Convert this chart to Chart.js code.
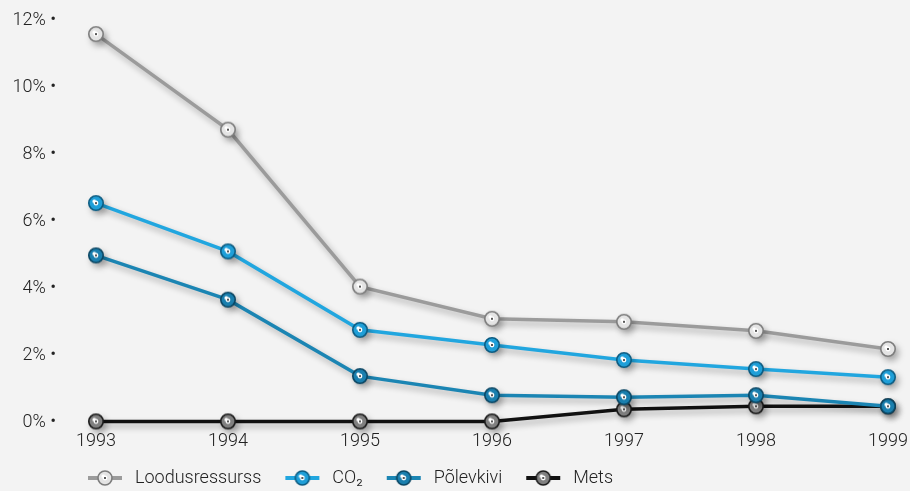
<!DOCTYPE html>
<html><head><meta charset="utf-8">
<script src="https://cdn.jsdelivr.net/npm/chart.js@4/dist/chart.umd.min.js"></script>
<style>
html,body{margin:0;padding:0;background:#f3f3f3;}
#wrap{width:910px;height:491px;position:relative;}
</style></head>
<body><div id="wrap"><canvas id="c" width="910" height="491"></canvas></div>
<script>
const years = ['1993','1994','1995','1996','1997','1998','1999'];
const seriesNames = ['Loodusressurss','CO\u2082','P\u00f5levkivi','Mets'];
const loodusressurss = [11.58, 8.73, 4.05, 3.09, 3.0, 2.73, 2.19];
const co2 = [6.54, 5.1, 2.76, 2.31, 1.86, 1.59, 1.35];
const polevkivi = [4.98, 3.66, 1.38, 0.81, 0.75, 0.81, 0.48];
const mets = [0.03, 0.03, 0.03, 0.03, 0.39, 0.48, 0.48];
const yTicks = [0, 2, 4, 6, 8, 10, 12];

const FONT = "Roboto, 'Liberation Sans', sans-serif";
const FW = 300;

const styles = [
  {line:'#9b9b9b', fill:'#e4e4e4', ring:'#7d7d7d'},
  {line:'#21a6df', fill:'#1f9fd8', ring:'#0c5c82'},
  {line:'#1b85b3', fill:'#1a7fae', ring:'#0a4663'},
  {line:'#111111', fill:'#808080', ring:'#1a1a1a'}
];

function drawMarker(ctx, cx, cy, r, s){
  const g = ctx.createRadialGradient(cx-2, cy-2, 1, cx, cy, r);
  g.addColorStop(0, '#ffffff');
  g.addColorStop(0.25, s.fill);
  g.addColorStop(1, s.fill);
  ctx.beginPath(); ctx.arc(cx, cy, r, 0, Math.PI*2);
  ctx.fillStyle = g; ctx.fill();
  ctx.lineWidth = 1.6; ctx.strokeStyle = s.ring; ctx.stroke();
  ctx.beginPath(); ctx.arc(cx, cy, 2.4, 0, Math.PI*2);
  ctx.fillStyle = '#ffffff'; ctx.fill();
  ctx.beginPath(); ctx.arc(cx, cy, 1, 0, Math.PI*2);
  ctx.fillStyle = '#222'; ctx.fill();
}
function makePoint(s){
  const c = document.createElement('canvas');
  c.width = 18; c.height = 18;
  drawMarker(c.getContext('2d'), 9, 9, 7.2, s);
  return c;
}
function makeLegend(s){
  const c = document.createElement('canvas');
  c.width = 58; c.height = 18;
  const x = c.getContext('2d');
  x.strokeStyle = s.line; x.lineWidth = 4;
  x.beginPath(); x.moveTo(20, 9); x.lineTo(54, 9); x.stroke();
  drawMarker(x, 37, 9, 7, s);
  return c;
}
const pointImgs = styles.map(makePoint);
const legendImgs = styles.map(makeLegend);

const shadowPlugin = {
  id:'shadow',
  beforeDatasetsDraw(chart){
    const ctx = chart.ctx; ctx.save();
    ctx.shadowColor = 'rgba(0,0,0,0.3)';
    ctx.shadowBlur = 6; ctx.shadowOffsetX = 3; ctx.shadowOffsetY = 4;
  },
  afterDatasetsDraw(chart){ chart.ctx.restore(); }
};
const legendShift = {
  id:'legendShift',
  afterLayout(chart){
    const l = chart.legend;
    l.left -= 32; l.right -= 32;
    const h = l.bottom - l.top;
    l.top = 465; l.bottom = l.top + h;
  }
};

const allData = [loodusressurss, co2, polevkivi, mets];
const datasets = allData.map((d,i)=>({
  label: seriesNames[i],
  data: d,
  borderColor: styles[i].line,
  backgroundColor: styles[i].line,
  borderWidth: 3.5,
  pointStyle: pointImgs[i],
  pointRadius: 7,
  pointHoverRadius: 7,
  pointBorderWidth: 1,
  tension: 0,
  clip: false
}));

new Chart(document.getElementById('c'), {
  type:'line',
  data:{labels: years, datasets},
  options:{
    responsive:false,
    animation:false,
    layout:{padding:{top:20, right:22, left:0, bottom:-1}},
    plugins:{
      tooltip:{enabled:false},
      legend:{
        position:'bottom',
        align:'start',
        fullSize:false,
        labels:{
          usePointStyle:true,
          pointStyleWidth:58,
          padding:4,
          color:'#222',
          font:{family:FONT, size:18, weight:FW},
          generateLabels(chart){
            return chart.data.datasets.map((ds,i)=>({
              text: ds.label, pointStyle: legendImgs[i], fillStyle: ds.borderColor,
              strokeStyle: ds.borderColor, lineWidth:0, hidden:false, datasetIndex:i, fontColor:'#222'
            }));
          }
        }
      }
    },
    scales:{
      x:{
        offset:false,
        afterFit(scale){ scale.paddingRight = 22; },
        grid:{display:false, drawTicks:false},
        border:{display:false},
        ticks:{color:'#222', font:{family:FONT, size:18, weight:FW}, padding:8, maxRotation:0}
      },
      y:{
        min:0, max:12,
        afterFit(scale){ scale.width = 96; },
        afterBuildTicks(scale){ scale.ticks = yTicks.map(v=>({value:v})); },
        grid:{display:false, drawTicks:true, tickLength:40},
        border:{display:false},
        ticks:{color:'#222', font:{family:FONT, size:18, weight:FW}, padding:0,
          callback:(v)=> v + '% \u2022'}
      }
    }
  },
  plugins:[shadowPlugin, legendShift]
});
</script></body></html>
